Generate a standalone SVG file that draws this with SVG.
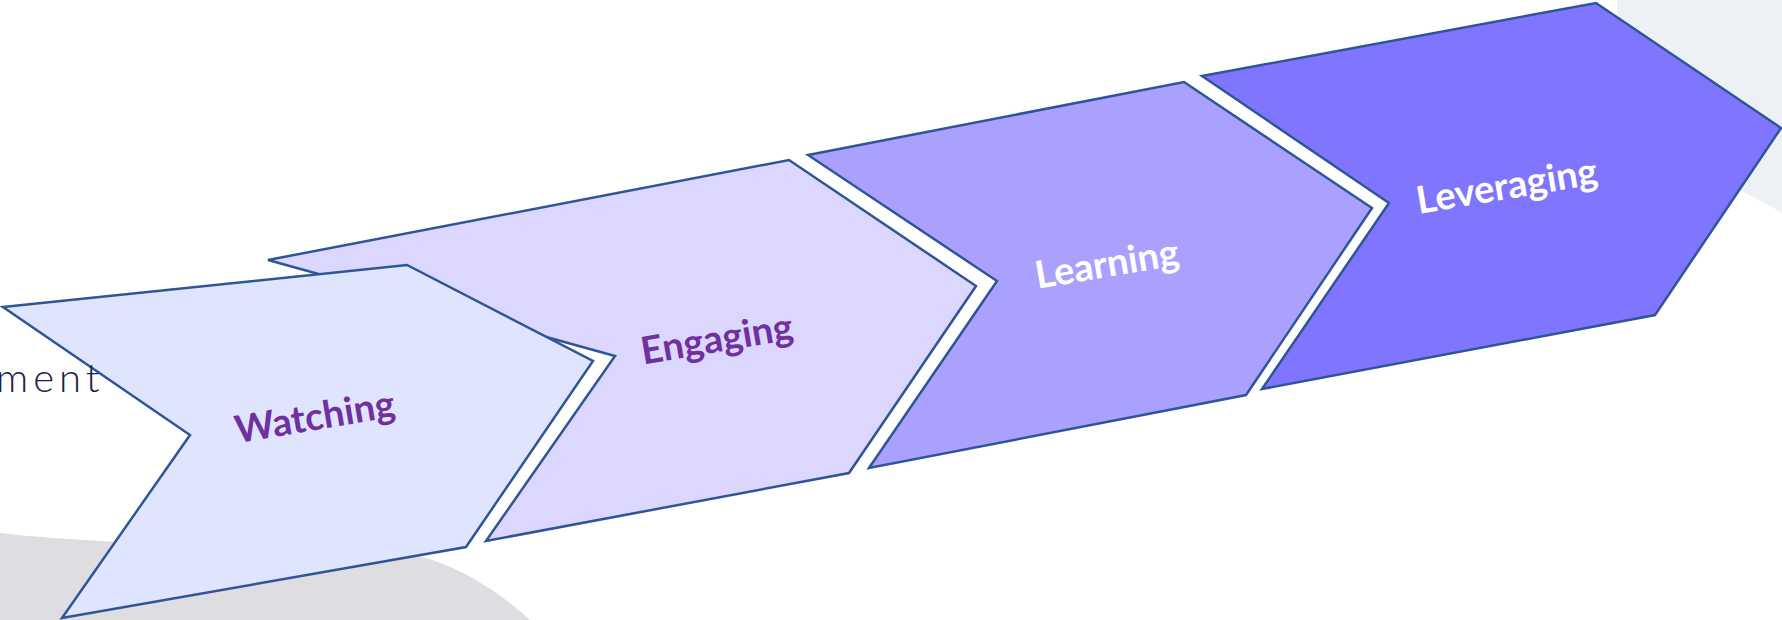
<svg xmlns="http://www.w3.org/2000/svg" width="1782" height="620" viewBox="0 0 1782 620">
<style>
.chev{stroke:#2f5597;stroke-width:2.5;stroke-linejoin:miter}
.lbl{font-family:Lato,"Open Sans","DejaVu Sans",sans-serif;font-weight:700;font-size:38px;text-anchor:middle}
.purple{fill:#7030a0}
.white{fill:#ffffff}
</style>
<rect width="1782" height="620" fill="#ffffff"/>
<g id="background">
<path d="M1617,0 L1782,0 L1782,213 C1760,200 1740,190 1720,180 L1617,120 Z" fill="#edf1f5"/>
<path d="M0,533 C100,545 300,548 400,552 C450,560 495,588 530,620 L0,620 Z" fill="#dedde2"/>
</g>
<g id="node-engaging">
<polygon class="chev" fill="#dcd7ff" points="268,260 789,160 976,286 849,473 486,541 615,356"/>
<text class="lbl purple" transform="translate(717,340) rotate(-9.5)" x="0" y="12">Engaging</text>
</g>
<g id="node-watching">
<polygon class="chev" fill="#e0e5ff" points="3,307 407,265 593,361 466,547 62,618 190,435"/>
<text class="lbl purple" transform="translate(315,418) rotate(-9.5)" x="0" y="12">Watching</text>
</g>
<g id="node-learning">
<polygon class="chev" fill="#aaa1ff" points="808,155 1184,82 1372,208 1246,395 869,468 997,281"/>
<text class="lbl white" transform="translate(1107,265) rotate(-9.5)" x="0" y="12">Learning</text>
</g>
<g id="node-leveraging">
<polygon class="chev" fill="#8075ff" points="1202,76 1596,3 1781,128 1655,315 1262,389 1389,203"/>
<text class="lbl white" transform="translate(1507,187) rotate(-9.5)" x="0" y="12">Leveraging</text>
</g>
<g id="title-fragment">
<text x="-4" y="392" font-family="Lato,'Open Sans',sans-serif" font-weight="300" font-size="40" fill="#1e1b4f" letter-spacing="5">ment</text>
</g>
<g id="connectors"></g>
</svg>
